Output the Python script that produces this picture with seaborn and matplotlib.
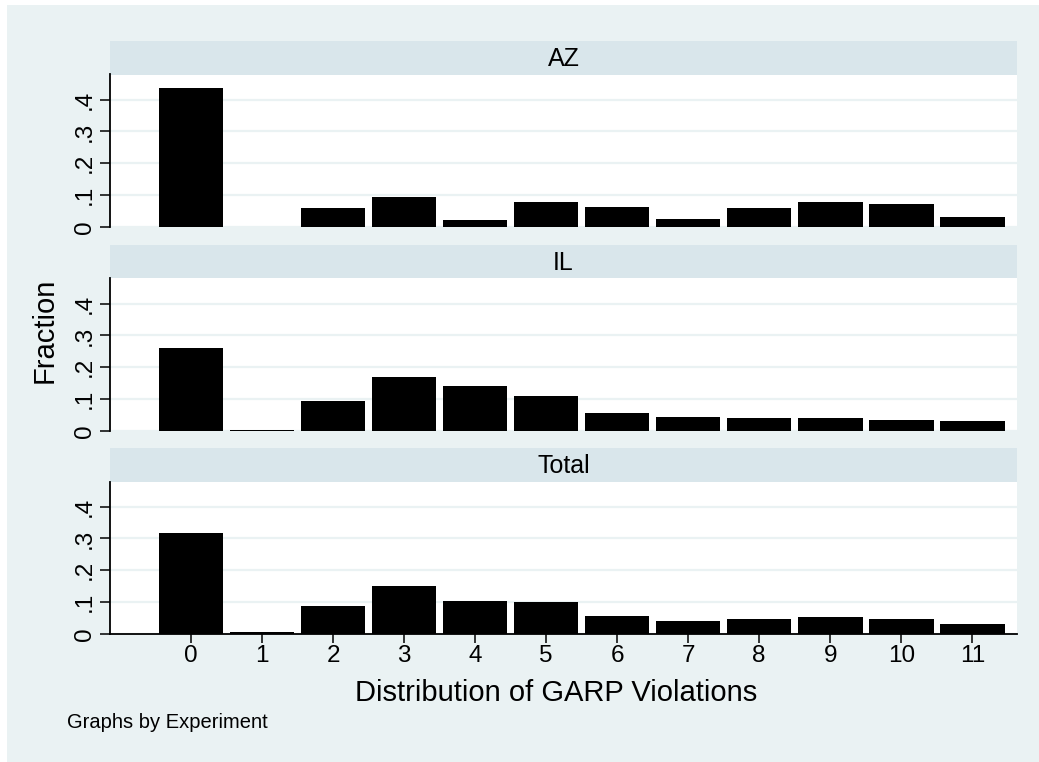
import numpy as np
import pandas as pd
import matplotlib
matplotlib.use("Agg")
import matplotlib.pyplot as plt
import seaborn as sns
from matplotlib.patches import Rectangle

# ---------------- data ----------------
violations = list(range(12))
panels = ["AZ", "IL", "Total"]
frac_az = [0.437, 0.0, 0.060, 0.094, 0.022, 0.080, 0.062, 0.026, 0.060, 0.077, 0.073, 0.031]
frac_il = [0.260, 0.004, 0.095, 0.171, 0.140, 0.110, 0.055, 0.045, 0.041, 0.041, 0.035, 0.032]
frac_total = [0.316, 0.005, 0.087, 0.150, 0.104, 0.102, 0.058, 0.041, 0.048, 0.053, 0.047, 0.032]
y_ticks = [0, 0.1, 0.2, 0.3, 0.4]
y_tick_labels = ["0", ".1", ".2", ".3", ".4"]
x_tick_labels = [str(v) for v in violations]

series = {"AZ": frac_az, "IL": frac_il, "Total": frac_total}
df = pd.concat([pd.DataFrame({"Experiment": p, "violations": violations, "fraction": series[p]})
                for p in panels], ignore_index=True)

# ---------------- style ----------------
sns.set_style("white")
plt.rcParams["font.family"] = ["Liberation Sans", "DejaVu Sans"]
plt.rcParams["text.color"] = "black"
plt.rcParams["xtick.color"] = "black"
plt.rcParams["ytick.color"] = "black"
plt.rcParams["xtick.labelcolor"] = "black"
plt.rcParams["ytick.labelcolor"] = "black"

W, H = 1039, 762
BG = "#EAF2F3"
STRIP = "#D9E6EB"
GRID = "#EAF2F3"

TICK_FS = 17.5
STRIP_FS = 18
LABEL_FS = 21

fig = plt.figure(figsize=(W / 100, H / 100), dpi=100)
fig.patch.set_facecolor("white")
fig.add_artist(Rectangle((7 / W, 0), 1 - 7 / W, 1 - 5 / H, transform=fig.transFigure,
                         facecolor=BG, edgecolor="none", zorder=-10))

def fr(x0, y0, w, h):
    return [x0 / W, 1 - (y0 + h) / H, w / W, h / H]

left, right = 110, 1017
strip_tops = [41, 245, 448]
strip_h = 33.5
ax_h = 152.5

for i, p in enumerate(panels):
    top = strip_tops[i]
    sax = fig.add_axes(fr(left, top, right - left, strip_h))
    sax.set_facecolor(STRIP)
    sax.set_xticks([]); sax.set_yticks([])
    for s in sax.spines.values():
        s.set_visible(False)
    sax.text(0.5, 0.47, p, ha="center", va="center", fontsize=STRIP_FS, color="black",
             transform=sax.transAxes)

    ax = fig.add_axes(fr(left, top + strip_h, right - left, ax_h))
    ax.set_facecolor("white")
    sub = df[df["Experiment"] == p]
    sns.barplot(data=sub, x="violations", y="fraction", order=violations, color="black",
                saturation=1, width=0.91, errorbar=None, ax=ax, linewidth=0, zorder=3)
    ax.set_xlim(-1.14, 11.63)
    ax.set_ylim(0, 0.479)
    ax.set_yticks(y_ticks)
    ax.set_yticklabels(y_tick_labels, rotation=90, va="center", fontsize=TICK_FS, color="black")
    ax.yaxis.grid(True, color=GRID, linewidth=1.6, zorder=0)
    ax.set_axisbelow(True)
    ax.tick_params(axis="y", length=7, width=1.1, pad=3, color="black", left=True)
    ax.set_xlabel(""); ax.set_ylabel("")
    for s in ["top", "right"]:
        ax.spines[s].set_visible(False)
    ax.spines["left"].set_color("black")
    ax.spines["left"].set_linewidth(1.3)
    if i < 2:
        ax.spines["bottom"].set_visible(False)
        ax.set_xticks([])
    else:
        ax.spines["bottom"].set_visible(True)
        ax.spines["bottom"].set_color("black")
        ax.spines["bottom"].set_linewidth(1.3)
        ax.set_xticks(violations)
        ax.set_xticklabels(x_tick_labels, fontsize=TICK_FS, color="black")
        ax.tick_params(axis="x", length=6.5, width=1.1, pad=1.5, color="black", bottom=True)

fig.text(45 / W, 1 - 330 / H, "Fraction", rotation=90, ha="center", va="center",
         fontsize=LABEL_FS, color="black")
fig.text(556 / W, 1 - 693 / H, "Distribution of GARP Violations", ha="center", va="center",
         fontsize=LABEL_FS, color="black")
fig.text(67 / W, 1 - 723 / H, "Graphs by Experiment", ha="left", va="center",
         fontsize=14.5, color="black")

fig.savefig("out.png", dpi=100, facecolor=fig.get_facecolor())
